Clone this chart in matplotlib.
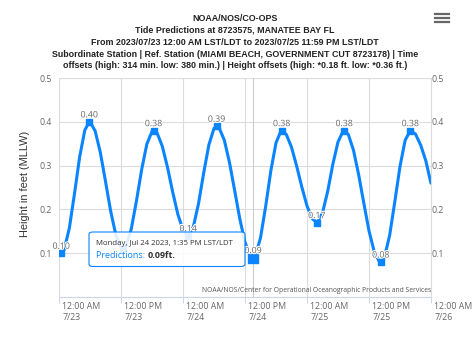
import numpy as np
import matplotlib
matplotlib.use('Agg')
import matplotlib.pyplot as plt
from matplotlib.lines import Line2D
from matplotlib.patches import FancyBboxPatch
from matplotlib.text import Annotation
import matplotlib.patheffects as pe

# predicted water level, hours after 2023/07/23 00:00 LST/LDT
hours = list(range(0, 72)) + [71.98]
heights = [0.101, 0.108, 0.157, 0.236, 0.320, 0.381, 0.400, 0.379, 0.330, 0.264,
           0.196, 0.142, 0.113, 0.117, 0.156, 0.220, 0.291, 0.349, 0.378, 0.374,
           0.344, 0.296, 0.240, 0.189, 0.153, 0.140, 0.160, 0.213, 0.283, 0.347,
           0.385, 0.386, 0.358, 0.307, 0.243, 0.178, 0.125, 0.095, 0.094, 0.135,
           0.207, 0.288, 0.352, 0.380, 0.371, 0.342, 0.299, 0.251, 0.208, 0.179,
           0.170, 0.192, 0.241, 0.303, 0.354, 0.379, 0.371, 0.335, 0.279, 0.214,
           0.151, 0.104, 0.081, 0.091, 0.141, 0.218, 0.298, 0.358, 0.380, 0.372,
           0.347, 0.311, 0.260]

# high / low tide points
hilo_hours = [0.45, 5.87, 12.4, 18.3, 25.0, 30.5, 37.58, 43.1, 49.9, 55.2, 62.3, 68.0]
hilo_heights = [0.10, 0.40, 0.11, 0.38, 0.14, 0.39, 0.09, 0.38, 0.17, 0.38, 0.08, 0.38]

x_ticks = [0, 12, 24, 36, 48, 60, 72]
x_labels = ['12:00 AM\n7/23', '12:00 PM\n7/23', '12:00 AM\n7/24', '12:00 PM\n7/24',
            '12:00 AM\n7/25', '12:00 PM\n7/25', '12:00 AM\n7/26']
y_ticks = [0.1, 0.2, 0.3, 0.4, 0.5]

hover_hour = 37.58
hover_text = 'Monday, Jul 24 2023, 1:35 PM LST/LDT'

title = ('NOAA/NOS/CO-OPS\n'
         'Tide Predictions at 8723575, MANATEE BAY FL\n'
         'From 2023/07/23 12:00 AM LST/LDT to 2023/07/25 11:59 PM LST/LDT\n'
         'Subordinate Station | Ref. Station (MIAMI BEACH, GOVERNMENT CUT 8723178) | Time\n'
         'offsets (high: 314 min. low: 380 min.) | Height offsets (high: *0.18 ft. low: *0.36 ft.)')

blue = '#0a84ff'
grid = '#dcdcdc'
lab = '#666666'
W, H = 476, 337

fig = plt.figure(figsize=(W / 100, H / 100), dpi=100)
ax = fig.add_axes([59 / W, 1 - 297 / H, 372 / W, 219 / H])
ax.set_xlim(0, 72)
ax.set_ylim(0, 0.5)

for s in ['top', 'left', 'right']:
    ax.spines[s].set_visible(False)
ax.spines['bottom'].set_color('#ccd6eb')
ax.spines['bottom'].set_linewidth(0.8)

ax.set_xticks(x_ticks)
ax.set_xticklabels([])
ax.tick_params(axis='x', length=4, width=0.7, color='#ccd6eb')
ax.set_yticks(y_ticks)
ax.set_yticklabels(['%.1f' % v for v in y_ticks], fontfamily='Open Sans',
                   fontsize=6.3, color=lab)
ax.tick_params(axis='y', length=0, pad=5)
ax.grid(True, color=grid, linewidth=0.8)
ax.set_axisbelow(True)

ax2 = ax.twinx()
ax2.set_ylim(0, 0.5)
ax2.set_yticks(y_ticks)
ax2.set_yticklabels(['%.1f' % v for v in y_ticks], fontfamily='Open Sans',
                    fontsize=6.3, color=lab)
ax2.tick_params(axis='y', length=0, pad=0.5)
for s in ax2.spines.values():
    s.set_visible(False)
ax2.spines['right'].set_visible(True)
ax2.spines['right'].set_color(grid)
ax2.spines['right'].set_linewidth(0.8)

# x labels sit just right of their tick
for t, l in zip(x_ticks, x_labels):
    ax.annotate(l, xy=(t, 0), xycoords=('data', 'axes fraction'),
                xytext=(2.5, -3.5), textcoords='offset points', ha='left', va='top',
                fontfamily='Open Sans', fontsize=6.3, color=lab, linespacing=1.25,
                annotation_clip=False)

# hover crosshair
ax.axvline(hover_hour, color='#cccccc', linewidth=0.8, zorder=1)

# merge hourly curve with the hi/lo points
lx = np.array(hours + hilo_hours)
ly = np.array(heights + hilo_heights)
order = np.argsort(lx, kind='stable')
ax.plot(lx[order], ly[order], color=blue, linewidth=2.2, zorder=3,
        solid_capstyle='round')
ax.plot(hilo_hours, hilo_heights, 's', color=blue, markersize=4.8, zorder=4)
i = hilo_hours.index(hover_hour)
ax.plot([hilo_hours[i]], [hilo_heights[i]], 's', color=blue, markersize=7, zorder=4)

for k, (hx, hy) in enumerate(zip(hilo_hours, hilo_heights)):
    if k == 2:
        continue  # sits under the tooltip
    ax.annotate('%.2f' % hy, xy=(hx, hy), xytext=(0, 5), textcoords='offset points',
                ha='center', va='center', fontfamily='Open Sans', fontsize=6.3,
                color=lab, zorder=5,
                path_effects=[pe.withStroke(linewidth=1.5, foreground='white')])

ax.text(1, 0.012, 'NOAA/NOS/Center for Operational Oceanographic Products and Services',
        transform=ax.transAxes, ha='right', va='bottom', fontfamily='Open Sans',
        fontsize=4.9, color='#555555', zorder=6)

fig.text(235 / W, 1 - 42.3 / H, title, ha='center', va='center', multialignment='center',
         fontfamily='Liberation Sans', fontweight='bold', fontsize=6.4, linespacing=1.4,
         color='#222222')
fig.text(25 / W, 1 - 184 / H, 'Height in feet (MLLW)', rotation=90, ha='center',
         va='center', fontfamily='Liberation Sans', fontsize=7.9, color='#333333')

# tooltip
box = FancyBboxPatch((89 / W, 1 - 266.5 / H), 156 / W, 34.5 / H,
                     boxstyle='round,pad=0,rounding_size=0.008',
                     transform=fig.transFigure, facecolor='white', alpha=0.88,
                     edgecolor='none', zorder=10)
fig.add_artist(box)
fig.add_artist(FancyBboxPatch((89 / W, 1 - 266.5 / H), 156 / W, 34.5 / H,
                              boxstyle='round,pad=0,rounding_size=0.008',
                              transform=fig.transFigure, facecolor='none',
                              edgecolor=blue, linewidth=0.8, zorder=11))
fig.text(96 / W, 1 - 243.3 / H, hover_text, ha='left', va='center',
         fontfamily='Open Sans', fontsize=5.6, color='#333333', zorder=12)
t1 = fig.text(96 / W, 1 - 256 / H, 'Predictions: ', ha='left', va='center',
              fontfamily='Open Sans', fontsize=6.5, color=blue, zorder=12)
val = Annotation('%.2fft.' % hilo_heights[i], xy=(1, 0.5), xycoords=t1, ha='left',
                 va='center', fontfamily='Open Sans', fontsize=6.5, fontweight='bold',
                 color='#333333')
val.set_zorder(12)
fig.add_artist(val)

# menu icon
for yy in [14, 18, 22]:
    fig.add_artist(Line2D([435 / W, 449 / W], [1 - yy / H, 1 - yy / H],
                          transform=fig.transFigure, color='#666666', linewidth=1.6))

fig.savefig('out.png', dpi=100)
